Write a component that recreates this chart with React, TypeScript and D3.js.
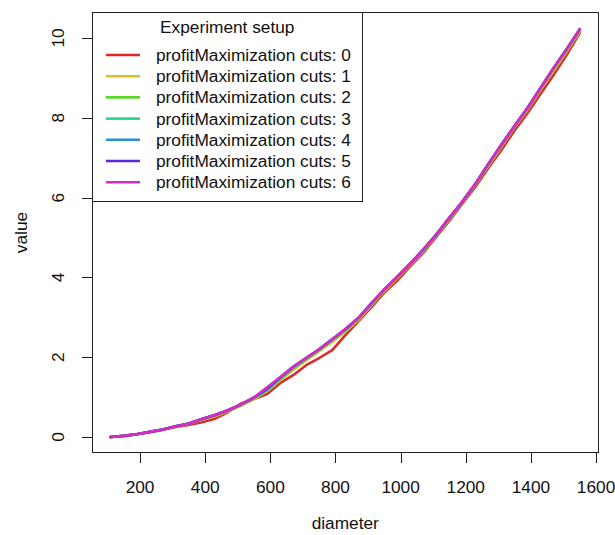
import React from 'react';
import * as d3 from 'd3';

// diameters sampled along the x axis
const diameter = [110, 150, 190, 230, 270, 310, 350, 390, 430, 470, 510, 550, 590, 630, 670, 710, 750, 790, 830, 870, 910, 950, 990, 1030, 1070, 1110, 1150, 1190, 1230, 1270, 1310, 1350, 1390, 1430, 1470, 1510, 1550];

const cuts0 = [0.00, 0.03, 0.07, 0.12, 0.18, 0.25, 0.30, 0.37, 0.46, 0.62, 0.84, 0.95, 1.08, 1.35, 1.55, 1.80, 1.98, 2.18, 2.55, 2.90, 3.25, 3.62, 3.92, 4.28, 4.62, 5.02, 5.42, 5.85, 6.27, 6.75, 7.20, 7.68, 8.12, 8.60, 9.08, 9.58, 10.12];
const cuts1 = [0.00, 0.03, 0.07, 0.13, 0.19, 0.26, 0.33, 0.43, 0.52, 0.64, 0.78, 0.95, 1.15, 1.42, 1.68, 1.92, 2.15, 2.38, 2.64, 2.93, 3.30, 3.66, 3.98, 4.32, 4.66, 5.05, 5.46, 5.88, 6.32, 6.80, 7.28, 7.76, 8.20, 8.70, 9.18, 9.66, 10.16];
const cuts2 = [0.00, 0.03, 0.07, 0.13, 0.19, 0.27, 0.34, 0.44, 0.54, 0.66, 0.80, 0.97, 1.17, 1.45, 1.72, 1.95, 2.18, 2.42, 2.67, 2.96, 3.32, 3.68, 4.00, 4.33, 4.68, 5.06, 5.48, 5.89, 6.33, 6.83, 7.31, 7.78, 8.23, 8.73, 9.22, 9.70, 10.19];
const cuts3 = [0.00, 0.03, 0.07, 0.13, 0.19, 0.27, 0.34, 0.45, 0.55, 0.66, 0.81, 0.98, 1.18, 1.47, 1.74, 1.97, 2.19, 2.44, 2.69, 2.97, 3.34, 3.69, 4.01, 4.34, 4.69, 5.07, 5.49, 5.90, 6.34, 6.84, 7.32, 7.79, 8.24, 8.74, 9.24, 9.71, 10.20];
const cuts4 = [0.00, 0.03, 0.07, 0.13, 0.19, 0.27, 0.34, 0.45, 0.55, 0.67, 0.82, 0.99, 1.19, 1.48, 1.75, 1.98, 2.20, 2.45, 2.70, 2.98, 3.35, 3.70, 4.02, 4.35, 4.70, 5.08, 5.50, 5.90, 6.35, 6.85, 7.33, 7.80, 8.25, 8.75, 9.25, 9.72, 10.21];
const cuts5 = [0.00, 0.03, 0.07, 0.13, 0.19, 0.27, 0.34, 0.45, 0.55, 0.67, 0.82, 0.99, 1.22, 1.49, 1.76, 1.98, 2.20, 2.45, 2.70, 2.98, 3.35, 3.70, 4.02, 4.35, 4.70, 5.08, 5.50, 5.90, 6.35, 6.85, 7.33, 7.80, 8.25, 8.75, 9.25, 9.72, 10.22];
const cuts6 = [0.00, 0.03, 0.07, 0.13, 0.19, 0.27, 0.34, 0.45, 0.55, 0.67, 0.82, 0.99, 1.25, 1.50, 1.76, 1.98, 2.20, 2.45, 2.70, 2.98, 3.35, 3.70, 4.02, 4.35, 4.70, 5.08, 5.50, 5.90, 6.35, 6.85, 7.33, 7.80, 8.25, 8.75, 9.25, 9.72, 10.22];

const seriesNames = ['profitMaximization cuts: 0', 'profitMaximization cuts: 1', 'profitMaximization cuts: 2', 'profitMaximization cuts: 3', 'profitMaximization cuts: 4', 'profitMaximization cuts: 5', 'profitMaximization cuts: 6'];
const seriesValues = [cuts0, cuts1, cuts2, cuts3, cuts4, cuts5, cuts6];
const colors = ['#D92B2B', '#D9C02B', '#5CD92B', '#2BD98E', '#2B8ED9', '#5C2BD9', '#D92BC0'];

const xTicks = [200, 400, 600, 800, 1000, 1200, 1400, 1600];
const yTicks = [0, 2, 4, 6, 8, 10];

const W = 615;
const H = 535;
const left = 92, right = 598.5, top = 12, bottom = 453;
const font = '"Liberation Sans", Arial, Helvetica, sans-serif';
const fs = 17.3;

export default function App() {
  const x = d3.scaleLinear().domain([52.4, 1607.6]).range([left, right]);
  const y = d3.scaleLinear().domain([-0.4, 10.65]).range([bottom, top]);

  const line = d3.line<number>()
    .x((d, i) => x(diameter[i]))
    .y(d => y(d));

  // legend layout
  const lgRight = 362.5, lgBottom = 202;
  const rowY = (i: number) => 55 + i * 21.2;

  return (
    <svg width={W} height={H} style={{ position: 'absolute', left: 0, top: 0, background: '#fff' }}
      fontFamily={font} fontSize={fs}>
      <rect width={W} height={H} fill="#fff" />

      {/* series */}
      {seriesValues.map((vals, k) => (
        <path key={k} d={line(vals) || ''} fill="none" stroke={colors[k]} strokeWidth={2.6}
          strokeLinejoin="round" strokeLinecap="round" />
      ))}

      {/* plot box */}
      <rect x={left + 0.5} y={top + 0.5} width={right - left - 1} height={bottom - top - 1}
        fill="none" stroke="#222" strokeWidth={1} shapeRendering="crispEdges" />

      {/* x axis */}
      <g shapeRendering="crispEdges">
        {xTicks.map(t => (
          <line key={t} x1={Math.round(x(t)) + 0.5} x2={Math.round(x(t)) + 0.5} y1={bottom} y2={bottom + 10} stroke="#222" />
        ))}
      </g>
      {xTicks.map(t => (
        <text key={t} x={x(t)} y={487} textAnchor="middle" dominantBaseline="central" fill="#111">{t}</text>
      ))}
      <text x={(left + right) / 2} y={523} textAnchor="middle" dominantBaseline="central" fill="#111">diameter</text>

      {/* y axis */}
      <g shapeRendering="crispEdges">
        {yTicks.map(t => (
          <line key={t} x1={left - 10} x2={left} y1={Math.round(y(t)) + 0.5} y2={Math.round(y(t)) + 0.5} stroke="#222" />
        ))}
      </g>
      {yTicks.map(t => (
        <text key={t} transform={`translate(58,${y(t)}) rotate(-90)`} textAnchor="middle" dominantBaseline="central" fill="#111">{t}</text>
      ))}
      <text transform={`translate(21,${(top + bottom) / 2}) rotate(-90)`} textAnchor="middle" dominantBaseline="central" fill="#111">value</text>

      {/* legend */}
      <rect x={left + 0.5} y={top + 0.5} width={lgRight - left - 1} height={lgBottom - top - 1}
        fill="#fff" stroke="#222" shapeRendering="crispEdges" />
      <text x={(left + lgRight) / 2} y={27} textAnchor="middle" dominantBaseline="central" fill="#111">Experiment setup</text>
      {seriesNames.map((name, i) => (
        <g key={name}>
          <line x1={106} x2={140} y1={rowY(i)} y2={rowY(i)} stroke={colors[i]} strokeWidth={2.6} />
          <text x={156} y={rowY(i)} dominantBaseline="central" fill="#111">{name}</text>
        </g>
      ))}
    </svg>
  );
}
